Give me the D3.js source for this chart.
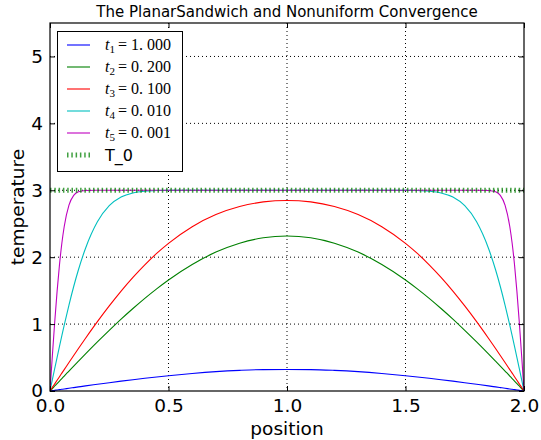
<!DOCTYPE html>
<html><head><meta charset="utf-8">
<script src="https://cdn.jsdelivr.net/npm/d3@7"></script>
<style>body{margin:0;background:#fff}svg{display:block}</style>
</head><body>
<svg id="chart" width="541" height="440"></svg>
<script>
const positions = [0, 0.01, 0.02, 0.03, 0.04, 0.05, 0.06, 0.08, 0.1, 0.12, 0.15, 0.2, 0.25, 0.3, 0.35, 0.4, 0.45, 0.5, 0.6, 0.7, 0.8, 0.9, 1.0,
  1.1, 1.2, 1.3, 1.4, 1.5, 1.55, 1.6, 1.65, 1.7, 1.75, 1.8, 1.85, 1.88, 1.9, 1.92, 1.94, 1.95, 1.96, 1.97, 1.98, 1.99, 2.0];
const t1Values = [0, 0.005, 0.010, 0.015, 0.020, 0.025, 0.030, 0.041, 0.051, 0.061, 0.076, 0.100, 0.124, 0.147, 0.169, 0.190, 0.210, 0.229, 0.262, 0.289, 0.308, 0.320, 0.322,
  0.320, 0.308, 0.289, 0.262, 0.229, 0.210, 0.190, 0.169, 0.147, 0.124, 0.100, 0.076, 0.061, 0.051, 0.041, 0.030, 0.025, 0.020, 0.015, 0.010, 0.005, 0];
const t2Values = [0, 0.037, 0.075, 0.112, 0.149, 0.186, 0.224, 0.298, 0.372, 0.445, 0.554, 0.733, 0.906, 1.074, 1.233, 1.385, 1.527, 1.660, 1.891, 2.076, 2.209, 2.290, 2.317,
  2.290, 2.209, 2.076, 1.891, 1.660, 1.527, 1.385, 1.233, 1.074, 0.906, 0.733, 0.554, 0.445, 0.372, 0.298, 0.224, 0.186, 0.149, 0.112, 0.075, 0.037, 0];
const t3Values = [0, 0.054, 0.107, 0.160, 0.214, 0.267, 0.320, 0.426, 0.531, 0.635, 0.788, 1.036, 1.271, 1.493, 1.698, 1.886, 2.056, 2.207, 2.456, 2.637, 2.757, 2.826, 2.848,
  2.826, 2.757, 2.637, 2.456, 2.207, 2.056, 1.886, 1.698, 1.493, 1.271, 1.036, 0.788, 0.635, 0.531, 0.426, 0.320, 0.267, 0.214, 0.160, 0.107, 0.054, 0];
const t4Values = [0, 0.169, 0.337, 0.504, 0.668, 0.829, 0.986, 1.285, 1.562, 1.812, 2.133, 2.528, 2.769, 2.898, 2.960, 2.986, 2.996, 2.999, 3.0, 3.0, 3.0, 3.0, 3.0,
  3.0, 3.0, 3.0, 3.0, 2.999, 2.996, 2.986, 2.960, 2.898, 2.769, 2.528, 2.133, 1.812, 1.562, 1.285, 0.986, 0.829, 0.668, 0.504, 0.337, 0.169, 0];
const t5Values = [0, 0.531, 1.036, 1.493, 1.887, 2.208, 2.459, 2.779, 2.924, 2.977, 2.997, 3.0, 3.0, 3.0, 3.0, 3.0, 3.0, 3.0, 3.0, 3.0, 3.0, 3.0, 3.0,
  3.0, 3.0, 3.0, 3.0, 3.0, 3.0, 3.0, 3.0, 3.0, 3.0, 3.0, 2.997, 2.977, 2.924, 2.779, 2.459, 2.208, 1.887, 1.493, 1.036, 0.531, 0];
const t0Positions = [0, 2];
const t0Values = [3, 3];
const seriesNames = ["t1", "t2", "t3", "t4", "t5"];
const seriesSub = ["1", "2", "3", "4", "5"];
const seriesTimes = ["1. 000", "0. 200", "0. 100", "0. 010", "0. 001"];
const seriesColors = ["#0000ff", "#008000", "#ff0000", "#00bfbf", "#bf00bf"];
const xTicks = [0, 0.5, 1.0, 1.5, 2.0];
const yTicks = [0, 1, 2, 3, 4, 5];

const allValues = [t1Values, t2Values, t3Values, t4Values, t5Values];
const svg = d3.select("#chart");
const L = 50, R = 524, T = 23, B = 391;
const x = d3.scaleLinear().domain([0, 2]).range([L, R]);
const y = d3.scaleLinear().domain([0, 5.5]).range([B, T]);
const sans = "DejaVu Sans, sans-serif";

// grid
const grid = svg.append("g");
xTicks.slice(1, -1).forEach(v => grid.append("line")
  .attr("x1", x(v)).attr("x2", x(v)).attr("y1", T).attr("y2", B)
  .attr("stroke", "#000").attr("stroke-width", 1).attr("stroke-dasharray", "1,3"));
yTicks.slice(1).forEach(v => grid.append("line")
  .attr("x1", L).attr("x2", R).attr("y1", y(v)).attr("y2", y(v))
  .attr("stroke", "#000").attr("stroke-width", 1).attr("stroke-dasharray", "1,3"));

// curves
const line = d3.line().x(d => x(d[0])).y(d => y(d[1])).curve(d3.curveMonotoneX);
svg.append("clipPath").attr("id", "clip").append("rect")
  .attr("x", L).attr("y", T).attr("width", R - L).attr("height", B - T);
const plot = svg.append("g").attr("clip-path", "url(#clip)");
allValues.forEach((vals, i) => {
  plot.append("path").datum(positions.map((p, j) => [p, vals[j]]))
    .attr("d", line).attr("fill", "none").attr("stroke", seriesColors[i]).attr("stroke-width", 1.1);
});
plot.append("path").datum(t0Positions.map((p, j) => [p, t0Values[j]]))
  .attr("d", d3.line().x(d => x(d[0])).y(d => y(d[1])))
  .attr("fill", "none").attr("stroke", "#008000").attr("stroke-width", 5)
  .attr("stroke-opacity", 0.75).attr("stroke-dasharray", "1.5,2.8");

// axes
const xAxB = d3.axisBottom(x).tickValues(xTicks).tickFormat(d3.format(".1f")).tickSizeInner(-5).tickSizeOuter(0).tickPadding(8);
const xAxT = d3.axisTop(x).tickValues(xTicks).tickFormat("").tickSizeInner(-5).tickSizeOuter(0);
const yAxL = d3.axisLeft(y).tickValues(yTicks).tickFormat(d3.format("d")).tickSizeInner(-5).tickSizeOuter(0).tickPadding(7);
const yAxR = d3.axisRight(y).tickValues(yTicks).tickFormat("").tickSizeInner(-5).tickSizeOuter(0);
function style(g) {
  g.select(".domain").remove();
  g.selectAll("line").attr("stroke", "#000").attr("stroke-width", 1);
  g.selectAll("text").attr("font-family", sans).attr("font-size", 18.5).attr("fill", "#000");
}
svg.append("g").attr("transform", `translate(0,${B})`).call(xAxB).call(style);
svg.append("g").attr("transform", `translate(0,${T})`).call(xAxT).call(style);
svg.append("g").attr("transform", `translate(${L},0)`).call(yAxL).call(style);
svg.append("g").attr("transform", `translate(${R},0)`).call(yAxR).call(style);
svg.append("rect").attr("x", L).attr("y", T).attr("width", R - L).attr("height", B - T)
  .attr("fill", "none").attr("stroke", "#000").attr("stroke-width", 1.2);

// labels
svg.append("text").attr("x", (L + R) / 2).attr("y", 17).attr("text-anchor", "middle")
  .attr("font-family", sans).attr("font-size", 15).text("The PlanarSandwich and Nonuniform Convergence");
svg.append("text").attr("x", (L + R) / 2).attr("y", 435).attr("text-anchor", "middle")
  .attr("font-family", sans).attr("font-size", 18.5).text("position");
svg.append("text").attr("transform", `translate(24,${(T + B) / 2}) rotate(-90)`).attr("text-anchor", "middle")
  .attr("font-family", sans).attr("font-size", 18.5).text("temperature");

// legend
const lg = svg.append("g");
lg.append("rect").attr("x", 57.5).attr("y", 31.5).attr("width", 125).attr("height", 140)
  .attr("fill", "#fff").attr("stroke", "#000").attr("stroke-width", 1);
const rowY = i => 45 + i * 22;
seriesNames.forEach((n, i) => {
  lg.append("line").attr("x1", 67).attr("x2", 90).attr("y1", rowY(i)).attr("y2", rowY(i))
    .attr("stroke", seriesColors[i]).attr("stroke-width", 1.1);
  const t = lg.append("text").attr("x", 105).attr("y", rowY(i) + 5)
    .attr("font-family", "Liberation Serif, DejaVu Serif, serif").attr("font-size", 16);
  t.append("tspan").attr("font-style", "italic").text("t");
  t.append("tspan").attr("font-size", 11).attr("dy", 3).text(seriesSub[i]);
  t.append("tspan").attr("dy", -3).attr("dx", 3).text("= " + seriesTimes[i]);
});
lg.append("line").attr("x1", 67).attr("x2", 90).attr("y1", rowY(5)).attr("y2", rowY(5))
  .attr("stroke", "#008000").attr("stroke-width", 5).attr("stroke-opacity", 0.75).attr("stroke-dasharray", "1.5,2.8");
lg.append("text").attr("x", 105).attr("y", rowY(5) + 6).attr("font-family", sans).attr("font-size", 16).text("T_0");
</script>
</body></html>
